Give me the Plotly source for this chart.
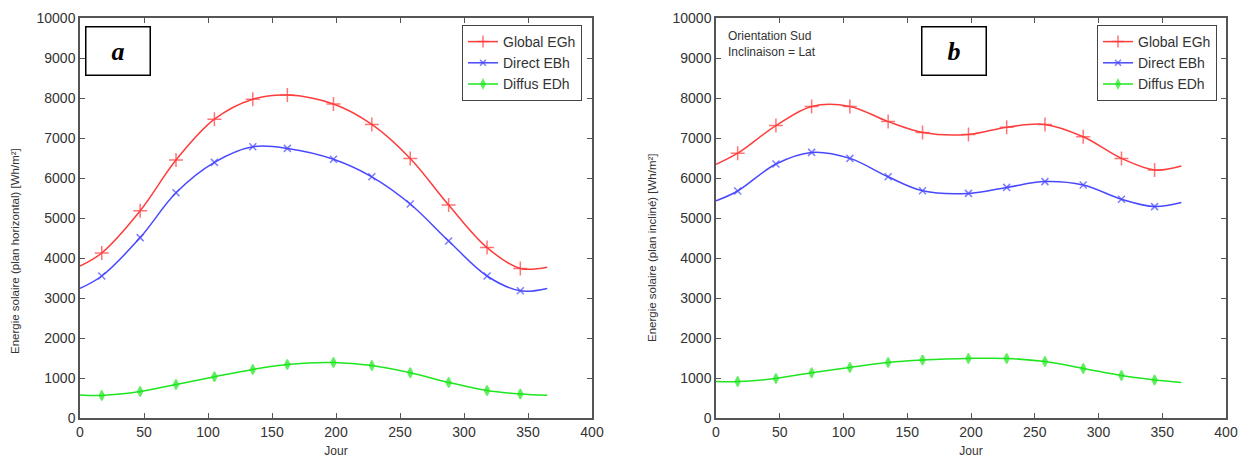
import plotly.graph_objects as go

# ---- data ----
jours = [17, 47, 75, 105, 135, 162, 198, 228, 258, 288, 318, 344]
jours_bornes = [0, 365]

# panel a : plan horizontal
a_global = [4125, 5180, 6450, 7470, 7970, 8075, 7850, 7340, 6490, 5325, 4260, 3740]
a_global_bornes = [3800, 3770]
a_direct = [3550, 4510, 5630, 6390, 6780, 6740, 6470, 6030, 5350, 4425, 3550, 3180]
a_direct_bornes = [3240, 3240]
a_diffus = [565, 660, 840, 1030, 1215, 1340, 1385, 1310, 1130, 890, 685, 600]
a_diffus_bornes = [575, 570]

# panel b : plan incliné (orientation sud, inclinaison = latitude)
b_global = [6620, 7310, 7790, 7790, 7410, 7140, 7090, 7270, 7340, 7030, 6490, 6200]
b_global_bornes = [6340, 6300]
b_direct = [5675, 6350, 6640, 6490, 6030, 5680, 5615, 5765, 5910, 5825, 5470, 5285]
b_direct_bornes = [5430, 5385]
b_diffus = [910, 990, 1130, 1265, 1390, 1450, 1490, 1490, 1410, 1240, 1060, 950]
b_diffus_bornes = [910, 890]

noms = ["Global EGh", "Direct EBh", "Diffus EDh"]
couleurs = ["#ff3c3c", "#4848ff", "#1ee61e"]
symboles = ["cross-thin", "x-thin", "diamond-tall"]
tailles = [10, 7, 7]

fig = go.Figure()


def add_series(vals, bornes, idx, xa, ya, leg):
    xs = [jours_bornes[0]] + jours + [jours_bornes[1]]
    ys = [bornes[0]] + vals + [bornes[1]]
    sizes = [0] + [tailles[idx]] * len(jours) + [0]
    col = couleurs[idx]
    fig.add_trace(go.Scatter(
        x=xs, y=ys, mode="lines+markers", name=noms[idx],
        line=dict(color=col, width=1.5, shape="spline", smoothing=1.0),
        marker=dict(symbol=symboles[idx], size=sizes, color=col,
                    line=dict(color=col, width=1.5)),
        xaxis=xa, yaxis=ya, legend=leg))


for i, (v, bo) in enumerate([(a_global, a_global_bornes), (a_direct, a_direct_bornes), (a_diffus, a_diffus_bornes)]):
    add_series(v, bo, i, "x", "y", "legend")
for i, (v, bo) in enumerate([(b_global, b_global_bornes), (b_direct, b_direct_bornes), (b_diffus, b_diffus_bornes)]):
    add_series(v, bo, i, "x2", "y2", "legend2")

W, H = 1249, 460
font = "Liberation Sans, Arial, sans-serif"
axcol = "#555555"

common_x = dict(range=[0, 400], dtick=50, showgrid=False, zeroline=False, automargin=False,
                showline=True, linecolor=axcol, linewidth=1.5, mirror="ticks",
                ticks="inside", ticklen=5, tickcolor=axcol, tickwidth=1.2,
                tickfont=dict(family=font, size=14, color="#333"),
                title=dict(text="Jour", font=dict(family=font, size=12, color="#333"), standoff=8))
common_y = dict(range=[0, 10000], dtick=1000, tickformat="d", showgrid=False, zeroline=False,
                automargin=False,
                showline=True, linecolor=axcol, linewidth=1.5, mirror="ticks",
                ticks="inside", ticklen=5, tickcolor=axcol, tickwidth=1.2,
                tickfont=dict(family=font, size=14, color="#333"))

yd = [42 / H, 442 / H]
titre_font = dict(family=font, size=11.5, color="#333")
fig.update_layout(
    template="none",
    width=W, height=H, margin=dict(l=0, r=0, t=0, b=0, autoexpand=False),
    paper_bgcolor="white", plot_bgcolor="white",
    xaxis=dict(common_x, domain=[80 / W, 592 / W], anchor="y"),
    yaxis=dict(common_y, domain=yd, anchor="x"),
    xaxis2=dict(common_x, domain=[716 / W, 1226 / W], anchor="y2"),
    yaxis2=dict(common_y, domain=yd, anchor="x2"),
    legend=dict(x=582 / W, y=1 - 25 / H, xanchor="right", yanchor="top",
                bgcolor="white", bordercolor="#444", borderwidth=1,
                font=dict(family=font, size=14, color="#333"), itemwidth=30,
                tracegroupgap=0),
    legend2=dict(x=1217 / W, y=1 - 25 / H, xanchor="right", yanchor="top",
                 bgcolor="white", bordercolor="#444", borderwidth=1,
                 font=dict(family=font, size=14, color="#333"), itemwidth=30,
                 tracegroupgap=0),
    annotations=[
        dict(text="Energie solaire (plan horizontal) [Wh/m²]", x=15 / W, y=1 - 251 / H,
             xref="paper", yref="paper", xanchor="center", yanchor="middle",
             textangle=-90, showarrow=False, font=titre_font),
        dict(text="Energie solaire (plan incliné) [Wh/m²]", x=652 / W, y=1 - 248 / H,
             xref="paper", yref="paper", xanchor="center", yanchor="middle",
             textangle=-90, showarrow=False, font=titre_font),
        dict(text="<b><i>a</i></b>", x=118 / W, y=1 - 51.5 / H, xref="paper", yref="paper",
             xanchor="center", yanchor="middle", showarrow=False,
             font=dict(family="Liberation Serif, Times New Roman, serif", size=26, color="black"),
             bordercolor="black", borderwidth=1.5, borderpad=0, width=63, height=47, bgcolor="white"),
        dict(text="<b><i>b</i></b>", x=954 / W, y=1 - 51.5 / H, xref="paper", yref="paper",
             xanchor="center", yanchor="middle", showarrow=False,
             font=dict(family="Liberation Serif, Times New Roman, serif", size=26, color="black"),
             bordercolor="black", borderwidth=1.5, borderpad=0, width=63, height=47, bgcolor="white"),
        dict(text="Orientation Sud<br>Inclinaison = Lat", x=726 / W, y=1 - 27 / H,
             xref="paper", yref="paper", xanchor="left", yanchor="top", align="left",
             showarrow=False, font=dict(family=font, size=12, color="#333")),
    ],
)

fig.write_html("out.html")
